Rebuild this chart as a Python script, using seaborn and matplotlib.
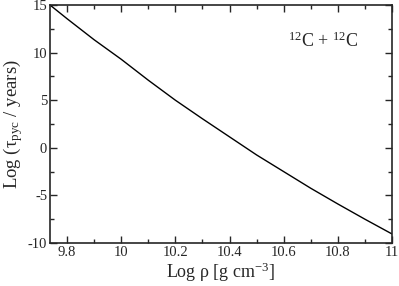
import numpy as np
import pandas as pd
import matplotlib
matplotlib.use("Agg")
import matplotlib.pyplot as plt
from matplotlib.ticker import MultipleLocator
import seaborn as sns

# values
log_rho = [9.737, 9.8, 9.9, 10.0, 10.1, 10.2, 10.3, 10.4, 10.5, 10.6, 10.7, 10.8, 10.9, 11.0]
log_tau = [15.0, 13.56, 11.35, 9.3, 7.1, 5.0, 3.05, 1.15, -0.75, -2.5, -4.25, -5.9, -7.5, -9.05]

df = pd.DataFrame({"log_rho": log_rho, "log_tau": log_tau})

sns.set_style("ticks")
plt.rcParams["font.family"] = ["Liberation Serif", "DejaVu Serif"]
plt.rcParams["mathtext.fontset"] = "custom"
plt.rcParams["mathtext.rm"] = "Liberation Serif"
plt.rcParams["mathtext.it"] = "Liberation Serif"

fig = plt.figure(figsize=(3.99, 2.86), dpi=100)
ax = fig.add_axes([0.1253, 0.1503, 0.8572, 0.8322])

sns.lineplot(data=df, x="log_rho", y="log_tau", ax=ax, color="black", linewidth=1.0)

ax.set_xlim(9.737, 11.0)
ax.set_ylim(-10, 15)
ax.xaxis.set_minor_locator(MultipleLocator(0.1))
ax.yaxis.set_minor_locator(MultipleLocator(2.5))
ax.set_xticks([9.8, 10.0, 10.2, 10.4, 10.6, 10.8, 11.0])
ax.set_xticklabels(["9.8", "10", "10.2", "10.4", "10.6", "10.8", "11"])
ax.set_yticks([-10, -5, 0, 5, 10, 15])
ax.set_yticklabels(["-10", "-5", "0", "5", "10", "15"])

ax.tick_params(which="both", direction="in", top=True, right=True, labelsize=10.5, pad=2)
ax.tick_params(which="major", length=5, width=1)
ax.tick_params(which="minor", length=3, width=1)
for s in ax.spines.values():
    s.set_linewidth(1.2)

ax.set_xlabel("Log ρ [g cm$^{-3}$]", fontsize=13, labelpad=1)
ax.set_ylabel("Log (τ$_{\\rm pyc}$ / years)", fontsize=13.5, labelpad=2)

ax.text(0.696, 0.824, "$^{\\rm 12}$C + $^{\\rm 12}$C", transform=ax.transAxes,
        fontsize=13, ha="left", va="baseline")

fig.savefig("out.png", dpi=100)
